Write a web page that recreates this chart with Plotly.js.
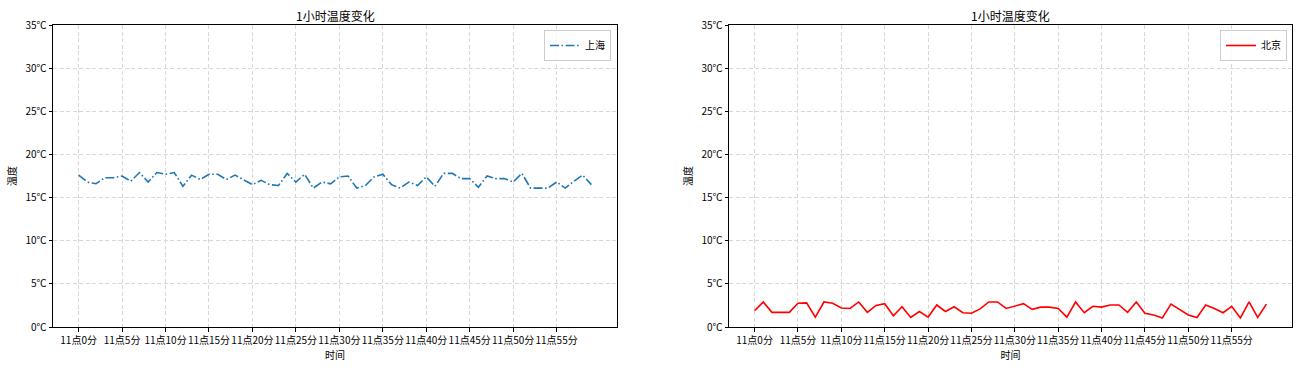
<!DOCTYPE html>
<html>
<head>
<meta charset="utf-8">
<script src="https://cdn.plot.ly/plotly-3.0.1.min.js"></script>
<style>html,body{margin:0;padding:0;background:#fff;}#chart{width:1304px;height:368px;}</style>
</head>
<body>
<div id="chart"></div>
<script>
const minutes = [];
for (let i = 0; i < 60; i++) minutes.push('11点' + i + '分');
const tickIdx = [0,5,10,15,20,25,30,35,40,45,50,55];
const tickLabels = tickIdx.map(i => '11点' + i + '分');

const shanghai = [17.6,16.8,16.6,17.3,17.3,17.5,16.9,17.9,16.8,17.9,
                  17.7,17.9,16.3,17.6,17.1,17.7,17.7,17.1,17.6,17.0,
                  16.5,17.0,16.5,16.4,17.8,16.8,17.7,16.1,16.8,16.6,
                  17.4,17.5,16.1,16.4,17.4,17.7,16.5,16.1,16.8,16.4,
                  17.4,16.3,17.8,17.8,17.2,17.2,16.2,17.5,17.2,17.2,
                  16.8,17.8,16.1,16.1,16.1,16.8,16.1,16.9,17.6,16.5];
const beijing = [1.9,2.9,1.7,1.7,1.7,2.75,2.8,1.15,2.9,2.75,
                 2.2,2.15,2.9,1.7,2.5,2.7,1.3,2.35,1.1,1.8,
                 1.15,2.55,1.8,2.35,1.65,1.6,2.1,2.9,2.9,2.15,
                 2.45,2.7,2.05,2.3,2.3,2.15,1.15,2.9,1.65,2.4,
                 2.3,2.55,2.55,1.7,2.9,1.6,1.4,1.05,2.65,2.0,
                 1.4,1.1,2.55,2.15,1.65,2.4,1.05,2.9,1.1,2.65];
const yTicks = [0,5,10,15,20,25,30,35];
const yLabels = yTicks.map(v => v + '℃');

const FONT = '"Noto Sans CJK SC", "DejaVu Sans", sans-serif';

const traces = [
  {x: minutes, y: shanghai, name: '上海', type: 'scatter', mode: 'lines',
   line: {color: '#1f77b4', width: 1.6, dash: '9px,2.5px,1.6px,2.5px'}, xaxis: 'x', yaxis: 'y', legend: 'legend'},
  {x: minutes, y: beijing, name: '北京', type: 'scatter', mode: 'lines',
   line: {color: 'red', width: 1.6}, xaxis: 'x2', yaxis: 'y2', legend: 'legend2'}
];

function xax(domain, anchor) {
  return {domain: domain, anchor: anchor, type: 'category', range: [-2.95, 61.95],
    tickmode: 'array', tickvals: tickIdx.map(i => minutes[i]), ticktext: tickLabels,
    tickangle: 0, ticks: 'outside', ticklen: 3.5, tickcolor: '#000', tickwidth: 1,
    showline: true, linecolor: '#000', linewidth: 1, mirror: true,
    showgrid: true, gridcolor: '#d8d8d8', griddash: '4px,2.5px', gridwidth: 1,
    zeroline: false, tickfont: {size: 10, color: '#000', family: FONT},
    title: {text: '时间', font: {size: 10, color: '#000', family: FONT}, standoff: 2}};
}
function yax(domain, anchor) {
  return {domain: domain, anchor: anchor, range: [0, 35],
    tickmode: 'array', tickvals: yTicks, ticktext: yLabels,
    ticks: 'outside', ticklen: 3.5, tickcolor: '#000', tickwidth: 1,
    showline: true, linecolor: '#000', linewidth: 1, mirror: true,
    showgrid: true, gridcolor: '#d8d8d8', griddash: '4px,2.5px', gridwidth: 1,
    zeroline: false, tickfont: {size: 10, color: '#000', family: FONT},
    title: {text: '温度', font: {size: 10, color: '#000', family: FONT}, standoff: 6}};
}
const yd = [1 - 327/368, 1 - 25/368];
const legendBase = {bgcolor: 'rgba(255,255,255,0.8)', bordercolor: '#cccccc', borderwidth: 1,
  font: {size: 10, color: '#000', family: FONT}, xanchor: 'right', yanchor: 'top', itemwidth: 30, tracegroupgap: 0};

const layout = {
  width: 1304, height: 368,
  margin: {l: 0, r: 0, t: 0, b: 0},
  paper_bgcolor: '#fff', plot_bgcolor: '#fff',
  font: {family: FONT, color: '#000'},
  showlegend: true,
  xaxis: xax([53/1304, 617/1304], 'y'),
  yaxis: yax(yd, 'x'),
  xaxis2: xax([729/1304, 1292/1304], 'y2'),
  yaxis2: yax(yd, 'x2'),
  legend: Object.assign({}, legendBase, {x: 611/1304, y: 1 - 30/368}),
  legend2: Object.assign({}, legendBase, {x: 1287/1304, y: 1 - 30/368}),
  annotations: [
    {text: '1小时温度变化', xref: 'paper', yref: 'paper', x: 335/1304, y: 1 - 15/368,
     xanchor: 'center', yanchor: 'middle', showarrow: false, font: {size: 12, color: '#000', family: FONT}},
    {text: '1小时温度变化', xref: 'paper', yref: 'paper', x: 1010/1304, y: 1 - 15/368,
     xanchor: 'center', yanchor: 'middle', showarrow: false, font: {size: 12, color: '#000', family: FONT}}
  ]
};
Plotly.newPlot('chart', traces, layout, {displayModeBar: false, staticPlot: true});
</script>
</body>
</html>
